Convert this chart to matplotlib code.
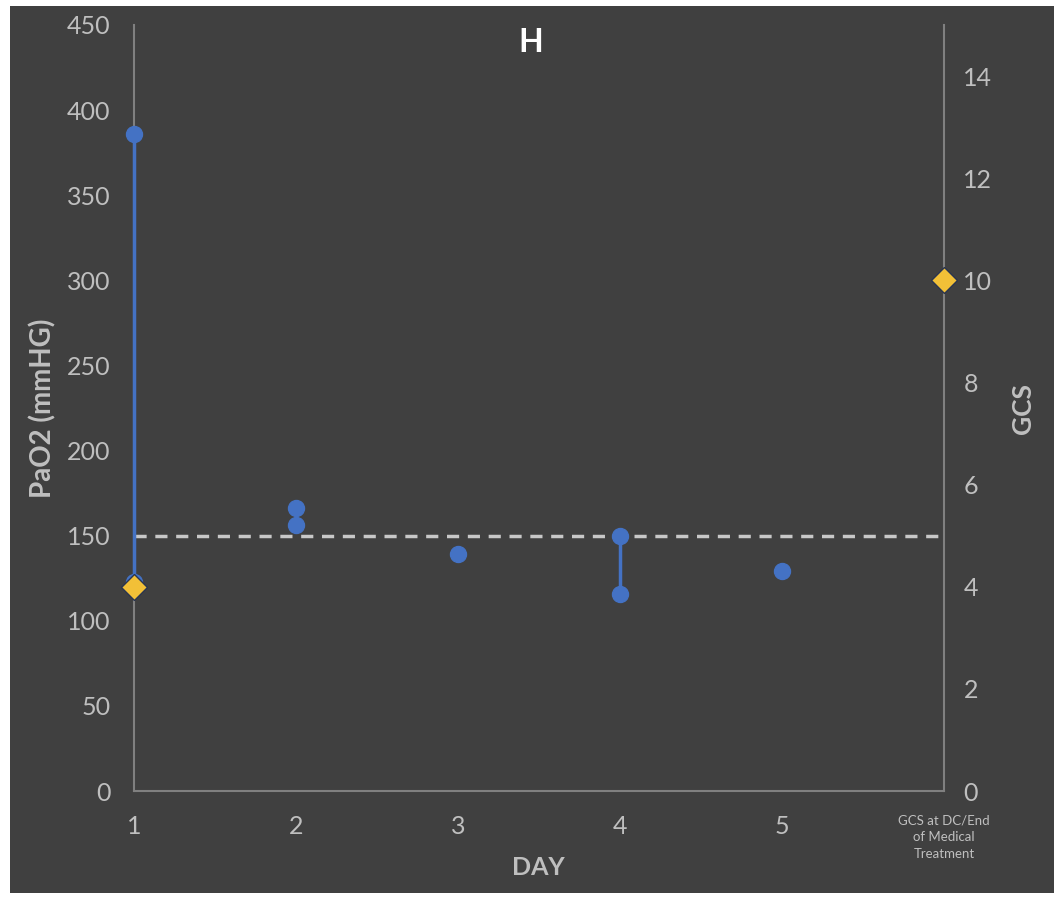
import numpy as np
import matplotlib.pyplot as plt
from matplotlib.patches import Rectangle

# PaO2 readings per day (mmHg)
days = [1, 1, 2, 2, 3, 4, 4, 5]
pao2 = [386, 123, 166, 156, 139, 150, 116, 129]

# GCS values (right axis)
gcs_x = [1, 6]
gcs = [4, 10]

threshold = 150
x_labels = ['1', '2', '3', '4', '5', 'GCS at DC/End\nof Medical\nTreatment']

BG = '#404040'
TXT = '#bfbfbf'
BLUE = '#4472C4'
GOLD = '#F2C037'
plt.rcParams['font.family'] = ['Lato', 'DejaVu Sans']

fig = plt.figure(figsize=(10.6, 8.97), dpi=100, facecolor='white')
fig.patches.append(Rectangle((10/1060, 4/897), 1044/1060, 887/897,
                             transform=fig.transFigure, facecolor=BG,
                             edgecolor='none', zorder=-10))
ax = fig.add_axes([134/1060, 1 - 791/897, 810/1060, 766/897])
ax.set_facecolor(BG)
ax2 = ax.twinx()

# dashed reference line
ax.axhline(threshold, color='#c8c8c8', linestyle=(0, (3.5, 2.5)), linewidth=2.5, zorder=2)

days_arr = np.array(days)
pao2_arr = np.array(pao2)
for d in np.unique(days_arr):
    vals = pao2_arr[days_arr == d]
    ax.plot([d] * len(vals), vals, color=BLUE, linewidth=2.5, marker='o',
            markersize=11.5, markeredgecolor=BLUE, zorder=5, clip_on=False)

ax2.plot(gcs_x, gcs, linestyle='none', marker='D', markersize=13,
         markerfacecolor=GOLD, markeredgecolor='#2a3550', markeredgewidth=1, zorder=6,
         clip_on=False)

ax.set_xlim(1, 6)
ax.set_ylim(0, 450)
ax.set_yticks(np.arange(0, 451, 50))
ax.set_xticks(range(1, 7))
ax.set_xticklabels(x_labels)
ax2.set_ylim(0, 15)
ax2.set_yticks(np.arange(0, 15, 2))

for a in (ax, ax2):
    for s in a.spines.values():
        s.set_visible(False)
    a.tick_params(length=0, colors=TXT, labelsize=18)
ax.spines['left'].set_visible(True)
ax.spines['bottom'].set_visible(True)
ax2.spines['right'].set_visible(True)
for s in (ax.spines['left'], ax.spines['bottom'], ax2.spines['right']):
    s.set_color('#808080')
    s.set_linewidth(1.5)
    s.set_zorder(1)
ax.tick_params(axis='y', pad=17)
ax.tick_params(axis='x', pad=17)
ax2.tick_params(axis='y', pad=14)
for lbl in ax.get_xticklabels()[-1:]:
    lbl.set_fontsize(9.5)
    lbl.set_linespacing(1.45)

ax.text(0.499, -0.1, 'DAY', transform=ax.transAxes, ha='center', va='center',
        color=TXT, fontsize=18, fontweight='bold')
ax.set_ylabel('PaO2 (mmHG)', color=TXT, fontsize=20, fontweight='bold')
ax.yaxis.set_label_coords(-0.096, 0.5)
ax2.set_ylabel('GCS', color=TXT, fontsize=19, fontweight='bold')
ax2.yaxis.set_label_coords(1.083, 0.5)
ax.text(0.49, 0.977, 'H', transform=ax.transAxes, ha='center', va='center',
        color='white', fontsize=23, fontweight='bold')

fig.savefig('out.png', dpi=100, facecolor='white')
